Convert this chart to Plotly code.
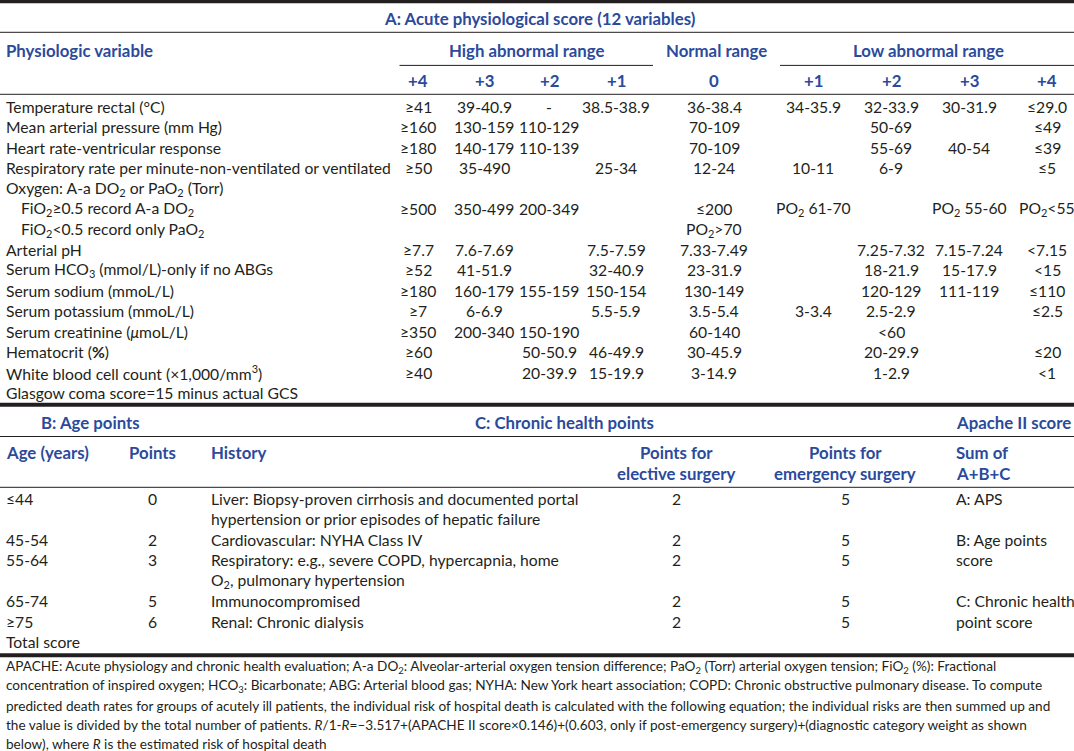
import plotly.graph_objects as go

W, H = 1074, 751
TEXT = "#231F20"
BLUE = "#2B4A9B"
FONT = "Lato"

# ---------------- Section A data ----------------
section_a_title = "A: Acute physiological score (12 variables)"
group_headers = ["High abnormal range", "Normal range", "Low abnormal range"]
score_headers = ["+4", "+3", "+2", "+1", "0", "+1", "+2", "+3", "+4"]

variables = [
    "Temperature rectal (°C)",
    "Mean arterial pressure (mm Hg)",
    "Heart rate-ventricular response",
    "Respiratory rate per minute-non-ventilated or ventilated",
    "Oxygen: A-a DO<sub>2</sub> or PaO<sub>2</sub> (Torr)",
    "FiO<sub>2</sub>≥0.5 record A-a DO<sub>2</sub>",
    "FiO<sub>2</sub>&lt;0.5 record only PaO<sub>2</sub>",
    "Arterial pH",
    "Serum HCO<sub>3</sub> (mmol/L)-only if no ABGs",
    "Serum sodium (mmoL/L)",
    "Serum potassium (mmoL/L)",
    "Serum creatinine (<i>μ</i>moL/L)",
    "Hematocrit (<b>%</b>)",
    "White blood cell count (×1,000/mm<sup>3</sup>)",
    "Glasgow coma score=15 minus actual GCS",
]
indented = [False, False, False, False, False, True, True,
            False, False, False, False, False, False, False, False]

high4 = ["≥41", "≥160", "≥180", "≥50", "", "≥500", "", "≥7.7", "≥52", "≥180", "≥7", "≥350", "≥60", "≥40", ""]
high3 = ["39-40.9", "130-159", "140-179", "35-490", "", "350-499", "", "7.6-7.69", "41-51.9", "160-179", "6-6.9", "200-340", "", "", ""]
high2 = ["-", "110-129", "110-139", "", "", "200-349", "", "", "", "155-159", "", "150-190", "50-50.9", "20-39.9", ""]
high1 = ["38.5-38.9", "", "", "25-34", "", "", "", "7.5-7.59", "32-40.9", "150-154", "5.5-5.9", "", "46-49.9", "15-19.9", ""]
normal0 = ["36-38.4", "70-109", "70-109", "12-24", "", "≤200", "PO<sub>2</sub>&gt;70", "7.33-7.49", "23-31.9", "130-149", "3.5-5.4", "60-140", "30-45.9", "3-14.9", ""]
low1 = ["34-35.9", "", "", "10-11", "", "PO<sub>2</sub> 61-70", "", "", "", "", "3-3.4", "", "", "", ""]
low2 = ["32-33.9", "50-69", "55-69", "6-9", "", "", "", "7.25-7.32", "18-21.9", "120-129", "2.5-2.9", "&lt;60", "20-29.9", "1-2.9", ""]
low3 = ["30-31.9", "", "40-54", "", "", "PO<sub>2</sub> 55-60", "", "7.15-7.24", "15-17.9", "111-119", "", "", "", "", ""]
low4 = ["≤29.0", "≤49", "≤39", "≤5", "", "PO<sub>2</sub>&lt;55", "", "&lt;7.15", "&lt;15", "≤110", "≤2.5", "", "≤20", "&lt;1", ""]

# ---------------- Sections B / C data ----------------
age_groups = ["≤44", "45-54", "55-64", "65-74", "≥75"]
age_points = ["0", "2", "3", "5", "6"]
history = [
    ["Liver: Biopsy-proven cirrhosis and documented portal",
     "hypertension or prior episodes of hepatic failure"],
    ["Cardiovascular: NYHA Class IV"],
    ["Respiratory: e.g., severe COPD, hypercapnia, home",
     "O<sub>2</sub>, pulmonary hypertension"],
    ["Immunocompromised"],
    ["Renal: Chronic dialysis"],
]
elective_points = ["2", "2", "2", "2", "2"]
emergency_points = ["5", "5", "5", "5", "5"]
apache_lines = ["A: APS", "B: Age points", "score", "C: Chronic health", "point score"]

footnote_lines = [
    "APACHE: Acute physiology and chronic health evaluation; A-a DO<sub>2</sub>: Alveolar-arterial oxygen tension difference; PaO<sub>2</sub> (Torr) arterial oxygen tension; FiO<sub>2</sub> (%): Fractional",
    "concentration of inspired oxygen; HCO<sub>3</sub>: Bicarbonate; ABG: Arterial blood gas; NYHA: New York heart association; COPD: Chronic obstructive pulmonary disease. To compute",
    "predicted death rates for groups of acutely ill patients, the individual risk of hospital death is calculated with the following equation; the individual risks are then summed up and",
    "the value is divided by the total number of patients. <i>R</i>/1-<i>R</i>=–3.517+(APACHE II score×0.146)+(0.603, only if post-emergency surgery)+(diagnostic category weight as shown",
    "below), where <i>R</i> is the estimated risk of hospital death",
]

# ---------------- Layout constants ----------------
BODY = 15.7
HEAD = 16.8
FOOT = 13.6
LEFT = 5

col_x = [418, 484, 549, 616, 714, 813, 891, 969, 1047]
row_y0, row_dy = 107, 20.43

fig = go.Figure()
fig.add_trace(go.Scatter(x=[0, W], y=[0, H], mode="markers",
                         marker=dict(opacity=0), hoverinfo="skip", showlegend=False))


def txt(x, y, text, size=BODY, color=TEXT, bold=False, anchor="left"):
    if bold:
        text = "<b>" + text + "</b>"
    fig.add_annotation(x=x, y=y, xref="x", yref="y", text=text, showarrow=False,
                       xanchor=anchor, yanchor="middle", borderpad=0,
                       font=dict(family=FONT, size=size, color=color))


def hline(y, x0=0, x1=W, w=1):
    fig.add_shape(type="line", xref="x", yref="y", x0=x0, x1=x1, y0=y, y1=y,
                  line=dict(color=TEXT, width=w))


# rules
hline(1.6, w=3.5)
hline(32.3)
hline(65.4, 399.5, 653)
hline(65.4, 780, W)
hline(94.3)
hline(404.8, w=4)
hline(436.5)
hline(487.3)
hline(655.3, w=4)

# Section A headings
txt(539, 18.5, section_a_title, size=HEAD, color=BLUE, bold=True, anchor="center")
txt(LEFT, 50, "Physiologic variable", size=HEAD, color=BLUE, bold=True)
txt(527, 50, group_headers[0], size=HEAD, color=BLUE, bold=True, anchor="center")
txt(716, 50, group_headers[1], size=HEAD, color=BLUE, bold=True, anchor="center")
txt(928, 50, group_headers[2], size=HEAD, color=BLUE, bold=True, anchor="center")
for x, h in zip(col_x, score_headers):
    txt(x, 80.5, h, size=HEAD, color=BLUE, bold=True, anchor="center")

columns = [high4, high3, high2, high1, normal0, low1, low2, low3, low4]
for i, name in enumerate(variables):
    y = row_y0 + i * row_dy
    txt(LEFT + (15 if indented[i] else 0), y, name)
    for x, col in zip(col_x, columns):
        if col[i]:
            txt(x, y, col[i], anchor="center")

# Sections B / C headings
txt(90, 422, "B: Age points", size=HEAD, color=BLUE, bold=True, anchor="center")
txt(564, 422, "C: Chronic health points", size=HEAD, color=BLUE, bold=True, anchor="center")
txt(955, 422, "Apache II score", size=HEAD, color=BLUE, bold=True)

X_AGE, X_PTS, X_HIST, X_ELEC, X_EMER, X_APA = LEFT, 152, 210, 676, 845, 955
txt(X_AGE, 452.7, "Age (years)", size=HEAD, color=BLUE, bold=True)
txt(X_PTS, 452.7, "Points", size=HEAD, color=BLUE, bold=True, anchor="center")
txt(X_HIST, 452.7, "History", size=HEAD, color=BLUE, bold=True)
txt(X_ELEC, 452.7, "Points for", size=HEAD, color=BLUE, bold=True, anchor="center")
txt(X_ELEC, 473.3, "elective surgery", size=HEAD, color=BLUE, bold=True, anchor="center")
txt(X_EMER, 452.7, "Points for", size=HEAD, color=BLUE, bold=True, anchor="center")
txt(X_EMER, 473.3, "emergency surgery", size=HEAD, color=BLUE, bold=True, anchor="center")
txt(X_APA, 452.7, "Sum of", size=HEAD, color=BLUE, bold=True)
txt(X_APA, 473.3, "A+B+C", size=HEAD, color=BLUE, bold=True)

line_y0, line_dy = 498.5, 20.5
k = 0
for i in range(len(age_groups)):
    y = line_y0 + k * line_dy
    txt(X_AGE, y, age_groups[i])
    txt(X_PTS, y, age_points[i], anchor="center")
    txt(X_ELEC, y, elective_points[i], anchor="center")
    txt(X_EMER, y, emergency_points[i], anchor="center")
    txt(X_APA, y, apache_lines[i])
    for j, hl in enumerate(history[i]):
        txt(X_HIST, y + j * line_dy, hl)
    k += len(history[i])
txt(X_AGE, line_y0 + k * line_dy, "Total score")

# footnote
for i, fl in enumerate(footnote_lines):
    txt(LEFT, 667 + i * 19.3, fl, size=FOOT)

fig.update_layout(
    width=W, height=H, margin=dict(l=0, r=0, t=0, b=0),
    paper_bgcolor="white", plot_bgcolor="white", showlegend=False,
    xaxis=dict(range=[0, W], visible=False, fixedrange=True),
    yaxis=dict(range=[H, 0], visible=False, fixedrange=True),
)

fig.write_html("out.html", config={"displayModeBar": False},
               post_script="document.body.style.margin='0px';document.body.style.overflow='hidden';")
